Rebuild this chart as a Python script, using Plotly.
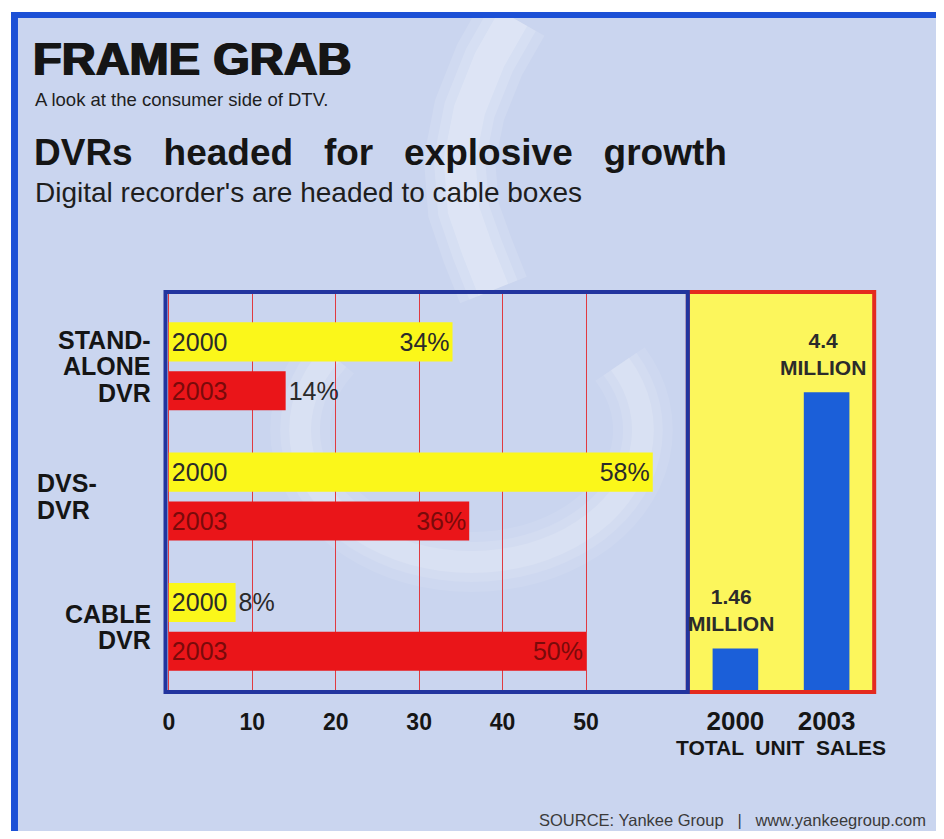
import math
import plotly.graph_objects as go

# ---------------- data ----------------
categories = ["STAND-ALONE DVR", "DVS-DVR", "CABLE DVR"]
category_lines = [["STAND-", "ALONE", "DVR"], ["DVS-", "DVR"], ["CABLE", "DVR"]]
share_2000 = [34, 58, 8]
share_2003 = [14, 36, 50]
years = ["2000", "2003"]
unit_sales_millions = [1.46, 4.4]
x_ticks = [0, 10, 20, 30, 40, 50]

# ---------------- styles ----------------
# the page body has an 8px margin, so the figure is 16px smaller and every
# reference pixel coordinate is shifted by 8
OFF = 8
W, H = 944 - 2 * OFF, 839 - 2 * OFF
FONT = "Liberation Sans"
BG = "#cad5ef"
YELLOW = "#fbf71a"
RED = "#ea1519"
DARKRED = "#7a0a0a"
BLUE_BAR = "#1b5fd9"
PANEL_YELLOW = "#fcf65c"
FRAME_BLUE = "#22349e"
FRAME_RED = "#e42a1e"
BORDER_BLUE = "#1c50d6"
INK = "#151515"
BAR_FONT = 25


def px(x):
    return (x - OFF) / W


def py(y):
    return 1 - (y - OFF) / H


left_x = (163, 687)
right_x = (689, 872)
plot_y = (292, 692)

fig = go.Figure()

fig.add_trace(go.Bar(
    y=categories, x=share_2000, orientation="h", name="2000",
    marker=dict(color=YELLOW, line=dict(width=0)), offsetgroup="a",
    texttemplate="%{x}%", textposition=["inside", "inside", "outside"],
    insidetextanchor="end", constraintext="none",
    insidetextfont=dict(family=FONT, size=BAR_FONT, color="#2a2a2a"),
    outsidetextfont=dict(family=FONT, size=BAR_FONT, color="#2a2a2a"),
    cliponaxis=False, xaxis="x", yaxis="y", hoverinfo="skip"))
fig.add_trace(go.Bar(
    y=categories, x=share_2000, orientation="h", name="2000 label",
    marker=dict(color="rgba(0,0,0,0)", line=dict(width=0)), offsetgroup="a",
    text=[years[0]] * len(categories), textposition="inside",
    insidetextanchor="start", constraintext="none",
    insidetextfont=dict(family=FONT, size=BAR_FONT, color="#2a2a2a"),
    xaxis="x", yaxis="y", hoverinfo="skip"))
fig.add_trace(go.Bar(
    y=categories, x=share_2003, orientation="h", name="2003",
    marker=dict(color=RED, line=dict(width=0)), offsetgroup="b",
    texttemplate="%{x}%", textposition=["outside", "inside", "inside"],
    insidetextanchor="end", constraintext="none",
    insidetextfont=dict(family=FONT, size=BAR_FONT, color=DARKRED),
    outsidetextfont=dict(family=FONT, size=BAR_FONT, color="#2a2a2a"),
    cliponaxis=False, xaxis="x", yaxis="y", hoverinfo="skip"))
fig.add_trace(go.Bar(
    y=categories, x=share_2003, orientation="h", name="2003 label",
    marker=dict(color="rgba(0,0,0,0)", line=dict(width=0)), offsetgroup="b",
    text=[years[1]] * len(categories), textposition="inside",
    insidetextanchor="start", constraintext="none",
    insidetextfont=dict(family=FONT, size=BAR_FONT, color=DARKRED),
    xaxis="x", yaxis="y", hoverinfo="skip"))

fig.add_trace(go.Bar(
    x=years, y=unit_sales_millions, width=0.5,
    marker=dict(color=BLUE_BAR, line=dict(width=0)),
    cliponaxis=False, xaxis="x2", yaxis="y2", hoverinfo="skip"))


def path_from(points):
    return "M " + " L ".join(f"{px(x):.5f},{py(y):.5f}" for x, y in points) + " Z"


def stroke_polygon(center, half):
    """Polygon around a centre line, half-width `half` (decorative swirl)."""
    left, right = [], []
    for i, (x, y) in enumerate(center):
        x0, y0 = center[max(i - 1, 0)]
        x1, y1 = center[min(i + 1, len(center) - 1)]
        dx, dy = x1 - x0, y1 - y0
        n = math.hypot(dx, dy) or 1.0
        nx, ny = -dy / n, dx / n
        left.append((x + nx * half, y + ny * half))
        right.append((x - nx * half, y - ny * half))
    return left + right[::-1]


# soft white swirl of the printed background (decoration, layered for softness)
band_center = [(512, 18), (488, 60), (468, 110), (458, 160), (462, 210), (476, 250), (492, 290)]
ring_center = [(470 + 172 * math.cos(math.radians(t)), 430 + 132 * math.sin(math.radians(t)))
               for t in range(215, -31, -5)]
swirl_shapes = []
for half, op in [(36, 0.12), (26, 0.14), (16, 0.18)]:
    swirl_shapes.append(dict(type="path", xref="paper", yref="paper",
                             path=path_from(stroke_polygon(band_center, half)),
                             fillcolor=f"rgba(255,255,255,{op})", line=dict(width=0),
                             layer="below"))
for half, op in [(30, 0.08), (20, 0.10), (11, 0.14)]:
    swirl_shapes.append(dict(type="path", xref="paper", yref="paper",
                             path=path_from(stroke_polygon(ring_center, half)),
                             fillcolor=f"rgba(255,255,255,{op})", line=dict(width=0),
                             layer="below"))

shapes = [
    dict(type="rect", xref="paper", yref="paper", x0=px(8), x1=1.0, y0=0, y1=py(12),
         fillcolor=BG, line=dict(width=0), layer="below"),
] + swirl_shapes + [
    dict(type="rect", xref="paper", yref="paper", x0=px(687), x1=px(874),
         y0=py(plot_y[1]), y1=py(plot_y[0]), fillcolor=PANEL_YELLOW,
         line=dict(width=0), layer="below"),
    dict(type="rect", xref="paper", yref="paper", x0=px(8), x1=1.0, y0=py(18), y1=py(12),
         fillcolor=BORDER_BLUE, line=dict(width=0), layer="above"),
    dict(type="rect", xref="paper", yref="paper", x0=px(8), x1=px(15), y0=0, y1=py(12),
         fillcolor=BORDER_BLUE, line=dict(width=0), layer="above"),
    dict(type="rect", xref="paper", yref="paper", x0=px(687), x1=px(874),
         y0=py(plot_y[1]), y1=py(plot_y[0]), line=dict(color=FRAME_RED, width=4),
         layer="above"),
    dict(type="rect", xref="paper", yref="paper", x0=px(left_x[0]), x1=px(left_x[1]),
         y0=py(plot_y[1]), y1=py(plot_y[0]), line=dict(color=FRAME_BLUE, width=4),
         layer="above"),
]

annotations = [
    dict(text="FRAME GRAB", x=px(28), y=py(58),
         font=dict(family=FONT, size=47, color=INK, weight=900,
                   shadow="1px 0px 0px #151515, -1px 0px 0px #151515")),
    dict(text="A look at the consumer side of DTV.", x=px(30), y=py(99),
         font=dict(family=FONT, size=18.5, color="#1e1e1e")),
    dict(text="DVRs   headed   for   explosive   growth", x=px(29), y=py(152),
         font=dict(family=FONT, size=37, color=INK, weight="bold")),
    dict(text="Digital recorder's are headed to cable boxes", x=px(30), y=py(193),
         font=dict(family=FONT, size=28, color="#1e1e1e")),
]
for a in annotations:
    a.update(xref="paper", yref="paper", xanchor="left", yanchor="middle", showarrow=False)

annotations.append(dict(
    text="SOURCE: Yankee Group   |   www.yankeegroup.com", xref="paper", yref="paper",
    x=px(928), y=py(831), xanchor="right", yanchor="bottom", showarrow=False,
    font=dict(family=FONT, size=16.5, color="#3a3a3a")))

# category labels (STAND-ALONE and CABLE right-aligned, DVS left-aligned)
label_align = ["right", "left", "right"]
label_x = [150, 32, 150]
LINE_STEP = 26.5
for cat, lines, al, lx in zip(categories, category_lines, label_align, label_x):
    n = len(lines)
    for i, line in enumerate(lines):
        annotations.append(dict(
            text=line, xref="paper", yref="y", x=px(lx), y=cat,
            yshift=((n - 1) / 2 - i) * LINE_STEP,
            xanchor=al, yanchor="middle", showarrow=False,
            font=dict(family=FONT, size=25, color=INK, weight="bold")))

# unit-sales value labels above the blue bars (x = category index)
for idx, v in enumerate(unit_sales_millions):
    annotations.append(dict(
        text=f"{v:g}<br>MILLION", xref="x2", yref="y2", x=idx, y=v,
        xanchor="center", yanchor="bottom", yshift=11, xshift=-4, showarrow=False,
        font=dict(family=FONT, size=21, color="#2b2b2b", weight="bold")))

fig.update_layout(
    width=W, height=H, margin=dict(l=0, r=0, t=0, b=0),
    paper_bgcolor="#ffffff", plot_bgcolor="rgba(0,0,0,0)",
    showlegend=False, barmode="group", bargap=0.25, bargroupgap=0.2,
    shapes=shapes, annotations=annotations,
    xaxis=dict(domain=[px(left_x[0]), px(left_x[1])], range=[-0.4, 62.2],
               tickvals=x_ticks, ticktext=[str(t) for t in x_ticks],
               showgrid=True, gridcolor="#e03a40", gridwidth=1.3, zeroline=False,
               ticks="outside", ticklen=9, tickcolor="rgba(0,0,0,0)",
               tickfont=dict(family=FONT, size=23, color=INK, weight="bold"),
               showline=False, fixedrange=True),
    yaxis=dict(domain=[py(plot_y[1]), py(plot_y[0])], type="category",
               categoryorder="array", categoryarray=categories,
               range=[2.5, -0.57], showticklabels=False, showgrid=False,
               zeroline=False, fixedrange=True),
    xaxis2=dict(domain=[px(right_x[0]), px(right_x[1])], anchor="y2",
                type="category", categoryorder="array", categoryarray=years,
                range=[-0.5, 1.5],
                ticks="outside", ticklen=6, tickcolor="rgba(0,0,0,0)",
                tickfont=dict(family=FONT, size=26, color=INK, weight="bold"),
                title=dict(text="TOTAL  UNIT  SALES", standoff=4,
                           font=dict(family=FONT, size=21, color=INK, weight="bold")),
                showgrid=False, zeroline=False, showline=False, fixedrange=True),
    yaxis2=dict(domain=[py(plot_y[1]), py(plot_y[0])], anchor="x2",
                range=[0.96, 5.55], visible=False, fixedrange=True),
)

fig.write_html("out.html")
